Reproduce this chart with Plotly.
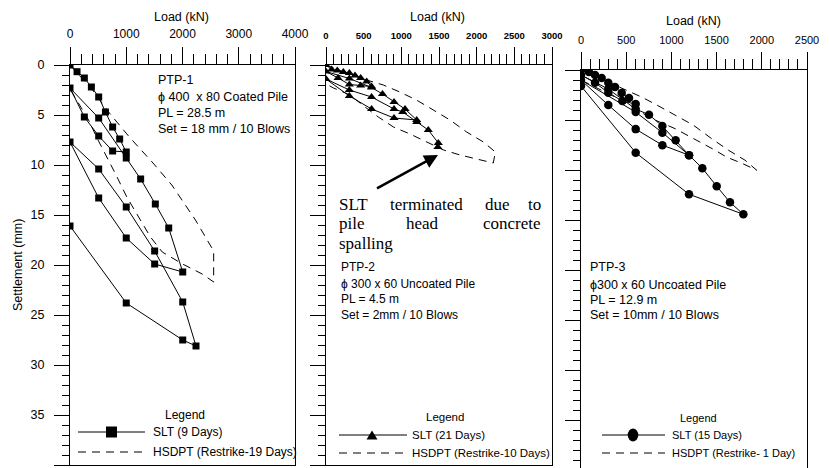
import plotly.graph_objects as go

W, H = 829, 468
SANS = "Arial, Liberation Sans, sans-serif"
SERIF = "Times New Roman, Liberation Serif, serif"

# ---------------- data ----------------
# PTP-1 (square markers)
ptp1_slt_load = [0, 125, 255, 380, 510, 630, 758, 883, 1000,
                 758, 510, 255, 0,
                 510, 1000, 1256, 1517, 1755, 2004,
                 1505, 1000, 510, 0,
                 510, 1000, 1505, 2004, 2240,
                 2004, 1000, 0]
ptp1_slt_settle = [0, 0.67, 1.3, 2.2, 3.2, 4.7, 6.2, 7.4, 8.7,
                   8.6, 7.1, 5.2, 2.3,
                   5.3, 9.3, 11.4, 13.9, 16.3, 20.7,
                   19.9, 17.3, 13.3, 7.7,
                   10.4, 14.2, 18.6, 23.7, 28.1,
                   27.5, 23.8, 16.1]
ptp1_hsdpt_load = [0, 400, 700, 1070, 1460, 1810, 2230, 2494, 2554, 2554,
                   2350, 2000, 1640, 1430, 1220, 1010, 810, 630, 480, 330, 0]
ptp1_hsdpt_settle = [0, 2.5, 4.8, 7.3, 9.7, 12.0, 15.5, 18.0, 18.6, 21.7,
                     20.9, 19.9, 18.7, 17.2, 15.2, 13.2, 10.9, 9.0, 7.3, 5.5, 2.4]

# PTP-2 (triangle markers)
ptp2_slt_load = [0, 75, 150, 230, 310, 385, 460, 540, 605,
                 460, 310, 160, 0,
                 310, 605, 750, 903, 1049, 1204,
                 903, 605, 310, 0,
                 310, 605, 903, 1018, 1204, 1358, 1491, 1485]
ptp2_slt_settle = [0, 0.45, 0.55, 0.7, 0.8, 1.05, 1.3, 1.65, 2.15,
                   2.05, 1.95, 1.3, 0.65,
                   1.35, 2.25, 2.9, 3.7, 4.4, 5.5,
                   5.3, 4.4, 3.1, 1.4,
                   2.5, 3.2, 4.4, 4.7, 5.7, 6.5, 7.8, 8.2]
ptp2_hsdpt_load = [0, 300, 540, 760, 980, 1200, 1425, 1646, 1867, 2089, 2248, 2221,
                   2000, 1780, 1560, 1340, 1115, 895, 695, 500, 320, 100, 0]
ptp2_hsdpt_settle = [0, 0.9, 1.5, 2.0, 2.7, 3.5, 4.5, 5.5, 6.7, 7.7, 8.7, 9.8,
                     9.4, 9.0, 8.5, 7.7, 6.9, 6.2, 5.2, 4.1, 3.0, 2.3, 1.9]

# PTP-3 (circle markers)
ptp3_slt_load = [0, 88, 155, 229, 302, 376, 450, 531, 605,
                 457, 302, 155, 0,
                 302, 605, 752, 900, 1047, 1195,
                 900, 605, 302, 0,
                 605, 900, 1195, 1342, 1501, 1648, 1796,
                 1195, 605, 0]
ptp3_slt_settle = [0, 0.2, 0.5, 0.8, 1.27, 1.7, 2.3, 2.8, 3.4,
                   3.1, 2.26, 1.27, 0.5,
                   1.9, 3.9, 4.46, 5.6, 7.0, 8.5,
                   7.5, 5.9, 3.5, 1.0,
                   4.2, 6.25, 8.5, 9.8, 11.6, 13.2, 14.4,
                   12.4, 8.25, 1.6]
ptp3_hsdpt_load = [0, 200, 450, 671, 819, 1076, 1242, 1445, 1630, 1814, 1943,
                   1778, 1612, 1482, 1316, 1187, 1040, 782, 400, 0]
ptp3_hsdpt_settle = [0, 0.8, 1.87, 2.7, 3.4, 4.7, 5.5, 6.85, 8.0, 9.0, 10.0,
                     9.3, 8.7, 8.0, 7.2, 6.5, 5.85, 4.85, 2.8, 1.0]

x1_ticks = [0, 1000, 2000, 3000, 4000]
x2_ticks = [0, 500, 1000, 1500, 2000, 2500, 3000]
x3_ticks = [0, 500, 1000, 1500, 2000, 2500]
y_ticks = [0, 5, 10, 15, 20, 25, 30, 35, 40]

DASH = "8px,6px"

fig = go.Figure()

def slt(xs, ys, sym, size, ax):
    fig.add_trace(go.Scatter(x=xs, y=ys, mode="lines+markers",
                             line=dict(color="black", width=1),
                             marker=dict(symbol=sym, size=size, color="black"),
                             xaxis=ax[0], yaxis=ax[1], showlegend=False, hoverinfo="skip"))

def hsdpt(xs, ys, ax):
    fig.add_trace(go.Scatter(x=xs, y=ys, mode="lines",
                             line=dict(color="black", width=1, dash=DASH),
                             xaxis=ax[0], yaxis=ax[1], showlegend=False, hoverinfo="skip"))

slt(ptp1_slt_load, ptp1_slt_settle, "square", 7, ("x", "y"))
hsdpt(ptp1_hsdpt_load, ptp1_hsdpt_settle, ("x", "y"))
slt(ptp2_slt_load, ptp2_slt_settle, "triangle-up", 8, ("x2", "y2"))
hsdpt(ptp2_hsdpt_load, ptp2_hsdpt_settle, ("x2", "y2"))
slt(ptp3_slt_load, ptp3_slt_settle, "circle", 8.5, ("x3", "y3"))
hsdpt(ptp3_hsdpt_load, ptp3_hsdpt_settle, ("x3", "y3"))

def fx(px):
    return px / W

def fy(py):
    return 1 - py / H

def xax(dom, rng, ticks, minor_dt, tickfont, anchor, mirror=True):
    return dict(domain=[fx(dom[0]), fx(dom[1])], range=rng, side="top", anchor=anchor,
                automargin=False,
                tickmode="array", tickvals=ticks, ticks="outside", ticklen=17, tickwidth=1,
                tickcolor="black", showline=True, linecolor="black", linewidth=1,
                mirror=mirror, showgrid=False, zeroline=False, tickfont=tickfont,
                ticklabelstandoff=4,
                minor=dict(ticks="outside", ticklen=10, dtick=minor_dt, tickcolor="black",
                           tickwidth=1, showgrid=False))

def yax(dom, rng, anchor, labels):
    return dict(domain=[dom[0], dom[1]], range=rng, anchor=anchor, automargin=False,
                tickmode="array", tickvals=y_ticks, ticks="outside", ticklen=15, tickwidth=1,
                tickcolor="black", showline=True, linecolor="black", linewidth=1,
                mirror=True, showgrid=False, zeroline=False, showticklabels=labels,
                tickfont=dict(size=12.5, family=SANS, color="black"), ticklabelstandoff=7,
                minor=dict(ticks="outside", ticklen=7, dtick=1, tickcolor="black",
                           tickwidth=1, showgrid=False))

yd12 = [fy(465), fy(65)]
yd3 = [0, fy(70)]
y3_bottom = (468 - 70) / 10.02

fig.update_layout(
    width=W, height=H, margin=dict(l=0, r=0, t=0, b=0, pad=0, autoexpand=False),
    paper_bgcolor="white", plot_bgcolor="white", showlegend=False,
    font=dict(family=SANS, color="black"),
    xaxis=xax((70, 295), [0, 4000], x1_ticks, 200, dict(size=12, family=SANS, color="black"), "y"),
    xaxis2=xax((326, 552), [0, 3000], x2_ticks, 100,
               dict(size=9.5, family=SANS, color="black", weight="bold"), "y2"),
    xaxis3=xax((581, 807), [0, 2500], x3_ticks, 100, dict(size=11, family=SANS, color="black"),
               "y3", mirror=False),
    yaxis=yax(yd12, [40, 0], "x", True),
    yaxis2=yax(yd12, [40, 0], "x2", False),
    yaxis3=yax(yd3, [y3_bottom, 0], "x3", False),
)

anns = []

def ann(text, px, py, size=12, xanchor="left", family=SANS, **kw):
    d = dict(text=text, x=fx(px), y=fy(py), xref="paper", yref="paper", xanchor=xanchor,
             yanchor="middle", showarrow=False, borderpad=0,
             font=dict(size=size, family=family, color="black"))
    d.update(kw)
    anns.append(d)

# axis titles
ann("Load (kN)", 181, 17, 12.5, "center")
ann("Load (kN)", 437, 17, 12.5, "center")
ann("Load (kN)", 693, 21, 12.5, "center")
ann("Settlement (mm)", 18, 265, 12.5, "center", textangle=-90)

# panel info texts
for txt, py in [("PTP-1", 80), ("\u03d5 400  x 80 Coated Pile", 97), ("PL = 28.5 m", 113),
                ("Set = 18 mm / 10 Blows", 129)]:
    ann(txt, 157, py, 12.5)
for txt, py in [("PTP-2", 267), ("\u03d5 300 x 60 Uncoated Pile", 284), ("PL = 4.5 m", 299),
                ("Set = 2mm / 10 Blows", 315)]:
    ann(txt, 340, py, 12)
for txt, py in [("PTP-3", 267), ("\u03d5300 x 60 Uncoated Pile", 285), ("PL = 12.9 m", 300),
                ("Set = 10mm / 10 Blows", 315)]:
    ann(txt, 589, py, 12.5)

# justified serif note
SZ = 17
L1, L2, L3 = 204, 223.5, 243
ann("SLT", 338, L1, SZ, "left", SERIF)
ann("terminated", 389, L1, SZ, "left", SERIF)
ann("due", 484, L1, SZ, "left", SERIF)
ann("to", 542, L1, SZ, "right", SERIF)
ann("pile", 338, L2, SZ, "left", SERIF)
ann("head", 422, L2, SZ, "center", SERIF)
ann("concrete", 542, L2, SZ, "right", SERIF)
ann("spalling", 338, L3, SZ, "left", SERIF)

# arrow
anns.append(dict(text=" ", x=fx(438), y=fy(155), xref="paper", yref="paper",
                 ax=-64, ay=35, showarrow=True, arrowhead=2, arrowsize=1.1,
                 arrowwidth=2.5, arrowcolor="black", standoff=0, startstandoff=0))

# legends
ann("Legend", 185, 415, 12, "center")
ann("SLT (9 Days)", 152, 432, 12)
ann("HSDPT (Restrike-19 Days)", 152, 452, 12)
ann("Legend", 445, 417, 11.5, "center")
ann("SLT (21 Days)", 411, 435, 11.5)
ann("HSDPT (Restrike-10 Days)", 411, 453, 11.5)
ann("Legend", 698, 418, 11, "center")
ann("SLT (15 Days)", 671, 435, 11)
ann("HSDPT (Restrike- 1 Day)", 671, 453, 11)

fig.update_layout(annotations=anns)

shapes = []

def seg(x0, y0, x1, y1, dash=None):
    line = dict(color="black", width=1)
    if dash:
        line["dash"] = dash
    shapes.append(dict(type="line", xref="paper", yref="paper", x0=fx(x0), y0=fy(y0),
                       x1=fx(x1), y1=fy(y1), line=line))

seg(78, 432, 145, 432)
seg(78, 452, 145, 452, DASH)
shapes.append(dict(type="rect", xref="paper", yref="paper", x0=fx(106), x1=fx(117),
                   y0=fy(437.5), y1=fy(426.5), fillcolor="black", line=dict(width=0)))
seg(339, 435, 407, 435)
seg(339, 453, 407, 453, DASH)
shapes.append(dict(type="path", xref="paper", yref="paper",
                   path=f"M {fx(366.5)} {fy(439.5)} L {fx(377.5)} {fy(439.5)} L {fx(372)} {fy(430.5)} Z",
                   fillcolor="black", line=dict(width=0)))
seg(602, 435, 665, 435)
seg(602, 453, 665, 453, DASH)
shapes.append(dict(type="circle", xref="paper", yref="paper", x0=fx(627.7), x1=fx(638.3),
                   y0=fy(441.5), y1=fy(428.5), fillcolor="black", line=dict(width=0)))

fig.update_layout(shapes=shapes)

fig.write_html("out.html")
